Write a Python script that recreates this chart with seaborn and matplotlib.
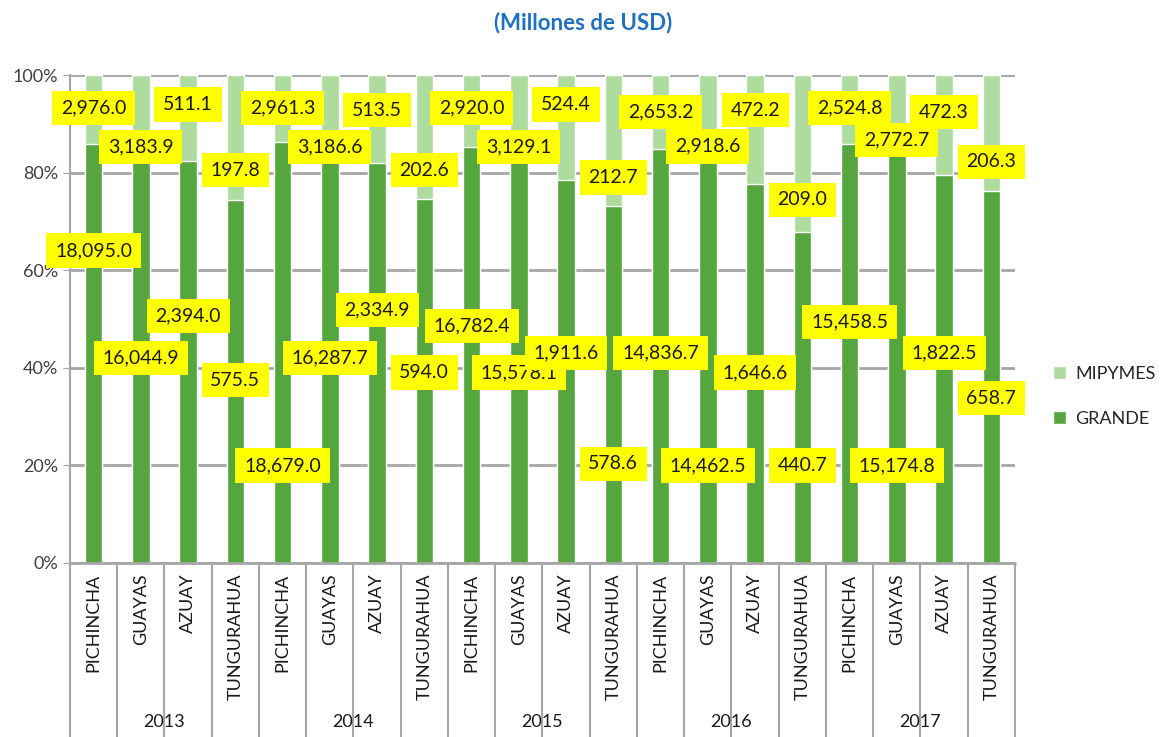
import pandas as pd
import matplotlib.pyplot as plt
import seaborn as sns
from matplotlib.patches import Patch
from matplotlib.lines import Line2D

# data (millones de USD)
years = ["2013", "2014", "2015", "2016", "2017"]
provinces = ["PICHINCHA", "GUAYAS", "AZUAY", "TUNGURAHUA"]
grande = [18095.0, 16044.9, 2394.0, 575.5,
          18679.0, 16287.7, 2334.9, 594.0,
          16782.4, 15578.1, 1911.6, 578.6,
          14836.7, 14462.5, 1646.6, 440.7,
          15458.5, 15174.8, 1822.5, 658.7]
mipymes = [2976.0, 3183.9, 511.1, 197.8,
           2961.3, 3186.6, 513.5, 202.6,
           2920.0, 3129.1, 524.4, 212.7,
           2653.2, 2918.6, 472.2, 209.0,
           2524.8, 2772.7, 472.3, 206.3]

# where the (hand placed) labels sit, in % of the axis
grande_label_y = [64, 42, 50.6, 37.5,
                  20, 42, 51.8, 39,
                  48.6, 39, 43, 20.3,
                  43, 20, 39, 20,
                  49.4, 20, 43, 33.8]
mipymes_label_y = [93.2, 85.2, 94, 80.5,
                   93.2, 85.2, 92.8, 80.5,
                   93.2, 85.2, 94, 79,
                   92.4, 85.4, 92.8, 74.4,
                   93.2, 86.7, 92.4, 82.2]

dark = "#56A63F"
light = "#AEDC9F"

rows = []
for i, (g, m) in enumerate(zip(grande, mipymes)):
    rows.append({"key": f"{years[i // 4]}-{provinces[i % 4]}",
                 "grande_pct": 100 * g / (g + m), "total": 100.0})
df = pd.DataFrame(rows)

sns.set_style("white")
plt.rcParams["font.family"] = ["Lato", "DejaVu Sans"]

fig = plt.figure(figsize=(11.6, 7.37), dpi=100)
ax = fig.add_axes([0.0603, 0.2361, 0.8147, 0.6621])

sns.barplot(data=df, x="key", y="total", color=light, width=0.37, ax=ax,
            saturation=1, zorder=3)
sns.barplot(data=df, x="key", y="grande_pct", color=dark, width=0.37, ax=ax,
            saturation=1, zorder=3)

ax.set_ylim(0, 100)
ax.set_xlim(-0.5, len(df) - 0.5)
ax.set_yticks(range(0, 101, 20))
ax.set_yticklabels([f"{v}%" for v in range(0, 101, 20)], fontsize=13, color="#404040")
ax.yaxis.grid(True, color="#A6A6A6", linewidth=2, zorder=0)
ax.set_axisbelow(True)
ax.set_xticks([])
ax.set_xlabel("")
ax.set_ylabel("")
for s in ["top", "right", "bottom"]:
    ax.spines[s].set_visible(False)
ax.spines["left"].set_color("#A6A6A6")
ax.spines["left"].set_linewidth(1.5)
ax.tick_params(axis="y", length=5, color="#A6A6A6", left=True)

box = dict(boxstyle="square,pad=0.45", facecolor="#FFFF00", edgecolor="none")
for i in range(len(df)):
    ax.text(i, grande_label_y[i], f"{grande[i]:,.1f}", ha="center", va="center",
            fontsize=14, color="#1a1a1a", bbox=box, zorder=5)
    ax.text(i, mipymes_label_y[i], f"{mipymes[i]:,.1f}", ha="center", va="center",
            fontsize=14, color="#1a1a1a", bbox=box, zorder=5)

# hierarchical category axis
trans = ax.get_xaxis_transform()
sep = "#A6A6A6"
ax.add_line(Line2D([-0.5, len(df) - 0.5], [0, 0], transform=trans, color=sep,
                   linewidth=2, clip_on=False, zorder=4))
for i in range(len(df) + 1):
    x = i - 0.5
    y_end = -0.36 if i % 4 else -0.42
    ax.add_line(Line2D([x, x], [0, y_end], transform=trans, color=sep,
                       linewidth=1.5, clip_on=False))
for i in range(len(df)):
    ax.text(i, -0.022, provinces[i % 4], transform=trans, rotation=90,
            ha="center", va="top", fontsize=13, color="#1a1a1a")
for j, yr in enumerate(years):
    ax.text(j * 4 + 1.5, -0.325, yr, transform=trans, ha="center", va="center",
            fontsize=13, color="#1a1a1a")

fig.text(0.503, 0.97, "(Millones de USD)", ha="center", va="center",
         fontsize=16, fontweight="bold", color="#1F70C1")

handles = [Patch(facecolor=light, label="MIPYMES"), Patch(facecolor=dark, label="GRANDE")]
fig.legend(handles=handles, loc="center left", bbox_to_anchor=(0.908, 0.462),
           frameon=False, fontsize=13, handlelength=0.7, handleheight=0.7,
           labelspacing=1.6, handletextpad=0.5, borderpad=0, borderaxespad=0)

fig.savefig("out.png", dpi=100)
